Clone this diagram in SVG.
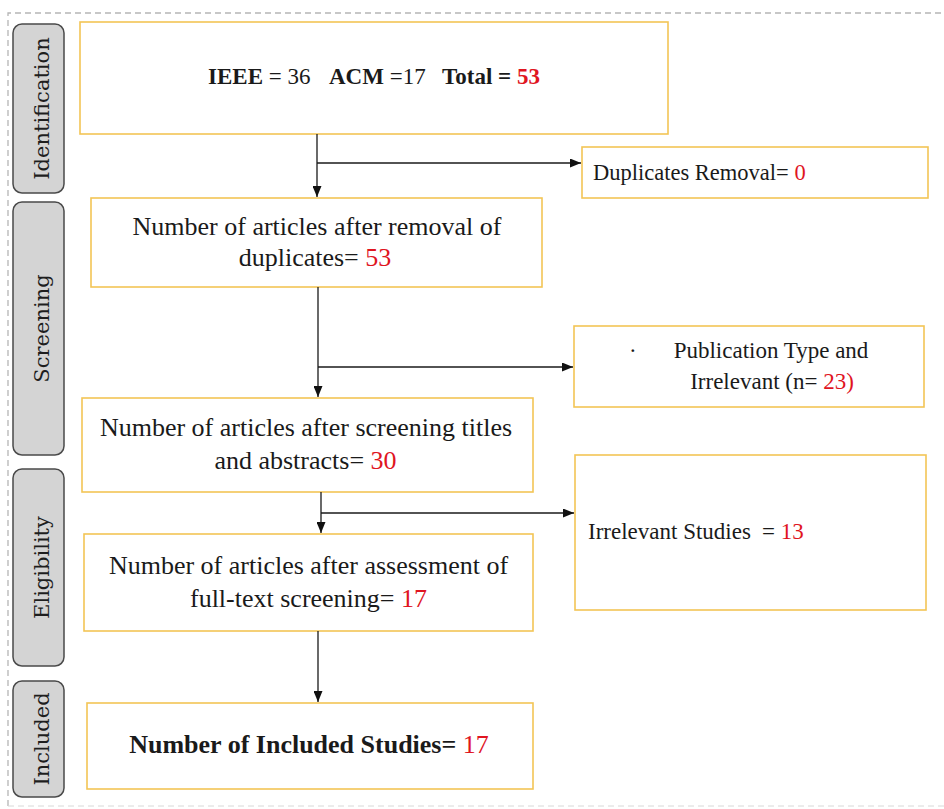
<svg xmlns="http://www.w3.org/2000/svg" width="944" height="809" viewBox="0 0 944 809">
<style>
.box{fill:#ffffff;stroke:#f3c555;stroke-width:1.6}
.panel{fill:#d4d4d4;stroke:#4a4a4a;stroke-width:1.5}
.ptxt{font-family:"DejaVu Serif",serif;font-size:21px;fill:#1e1e1e}
.t{font-family:"Liberation Serif","Times New Roman",serif;fill:#1a1a1a}
.b{font-weight:bold}
.r{fill:#e0151f}
.conn{stroke:#1a1a1a;stroke-width:1.3;fill:none}
</style>
<defs>
<marker id="arr" viewBox="0 0 11 9" refX="11" refY="4.5" markerWidth="11" markerHeight="9" markerUnits="userSpaceOnUse" orient="auto">
<path d="M0,0 L11,4.5 L0,9 Z" fill="#111"/>
</marker>
</defs>
<rect width="944" height="809" fill="#ffffff"/>
<path d="M8,806 L8,13 L944,13" fill="none" stroke="#b5b5b5" stroke-width="1.3" stroke-dasharray="6 4"/>
<path d="M8,806 L944,806" fill="none" stroke="#d8d8d8" stroke-width="1" stroke-dasharray="6 4"/>

<g id="panel-identification">
<rect class="panel" x="13" y="24" width="51" height="169" rx="9"/>
<text class="ptxt" text-anchor="middle" transform="translate(48.5,108.5) rotate(-90)">Identification</text>
</g>
<g id="panel-screening">
<rect class="panel" x="13" y="202" width="51" height="253" rx="9"/>
<text class="ptxt" text-anchor="middle" transform="translate(48.5,328.5) rotate(-90)">Screening</text>
</g>
<g id="panel-eligibility">
<rect class="panel" x="13" y="469" width="51" height="197" rx="9"/>
<text class="ptxt" text-anchor="middle" transform="translate(48.5,567.5) rotate(-90)">Eligibility</text>
</g>
<g id="panel-included">
<rect class="panel" x="13" y="681" width="51" height="116" rx="9"/>
<text class="ptxt" text-anchor="middle" transform="translate(48.5,739) rotate(-90)">Included</text>
</g>

<g id="box-identified">
<rect class="box" x="80" y="22" width="588" height="112"/>
<text class="t" font-size="23" x="208" y="84"><tspan class="b">IEEE</tspan><tspan> = 36</tspan><tspan x="329" class="b">ACM</tspan><tspan> =17</tspan><tspan x="442" class="b">Total = </tspan><tspan class="b r">53</tspan></text>
</g>
<g id="box-duplicates-removal">
<rect class="box" x="582" y="147" width="346" height="51"/>
<text class="t" font-size="22.5" x="593" y="180">Duplicates Removal= <tspan class="r">0</tspan></text>
</g>
<g id="box-after-duplicates">
<rect class="box" x="91" y="198" width="451" height="89"/>
<text class="t" font-size="26" text-anchor="middle" x="317" y="235">Number of articles after removal of</text>
<text class="t" font-size="26" text-anchor="middle" x="315" y="266">duplicates= <tspan class="r">53</tspan></text>
</g>
<g id="box-publication-type">
<rect class="box" x="574" y="326" width="350" height="81"/>
<text class="t" font-size="23" x="629" y="358">·</text>
<text class="t" font-size="23" text-anchor="middle" x="771" y="358">Publication Type and</text>
<text class="t" font-size="23" text-anchor="middle" x="772" y="389">Irrelevant (n= <tspan class="r">23)</tspan></text>
</g>
<g id="box-after-screening">
<rect class="box" x="82" y="398" width="451" height="94"/>
<text class="t" font-size="26" text-anchor="middle" x="306" y="436">Number of articles after screening titles</text>
<text class="t" font-size="26" text-anchor="middle" x="305.5" y="469">and abstracts= <tspan class="r">30</tspan></text>
</g>
<g id="box-irrelevant-studies">
<rect class="box" x="575" y="455" width="351" height="155"/>
<text class="t" font-size="23" x="588" y="539">Irrelevant Studies<tspan x="762">= </tspan><tspan class="r">13</tspan></text>
</g>
<g id="box-after-fulltext">
<rect class="box" x="84" y="534" width="449" height="97"/>
<text class="t" font-size="26" text-anchor="middle" x="308.5" y="574">Number of articles after assessment of</text>
<text class="t" font-size="26" text-anchor="middle" x="308.5" y="607">full-text screening= <tspan class="r">17</tspan></text>
</g>
<g id="box-included">
<rect class="box" x="87" y="703" width="446" height="86"/>
<text class="t" font-size="26" text-anchor="middle" x="309" y="753"><tspan class="b">Number of Included Studies=</tspan> <tspan class="r">17</tspan></text>
</g>

<g id="connectors">
<line class="conn" x1="317" y1="134" x2="317" y2="197" marker-end="url(#arr)"/>
<line class="conn" x1="317" y1="163" x2="581" y2="163" marker-end="url(#arr)"/>
<line class="conn" x1="318" y1="287" x2="318" y2="397" marker-end="url(#arr)"/>
<line class="conn" x1="318" y1="367" x2="573" y2="367" marker-end="url(#arr)"/>
<line class="conn" x1="321" y1="492" x2="321" y2="533" marker-end="url(#arr)"/>
<line class="conn" x1="321" y1="513" x2="574" y2="513" marker-end="url(#arr)"/>
<line class="conn" x1="318" y1="631" x2="318" y2="702" marker-end="url(#arr)"/>
</g>
</svg>
